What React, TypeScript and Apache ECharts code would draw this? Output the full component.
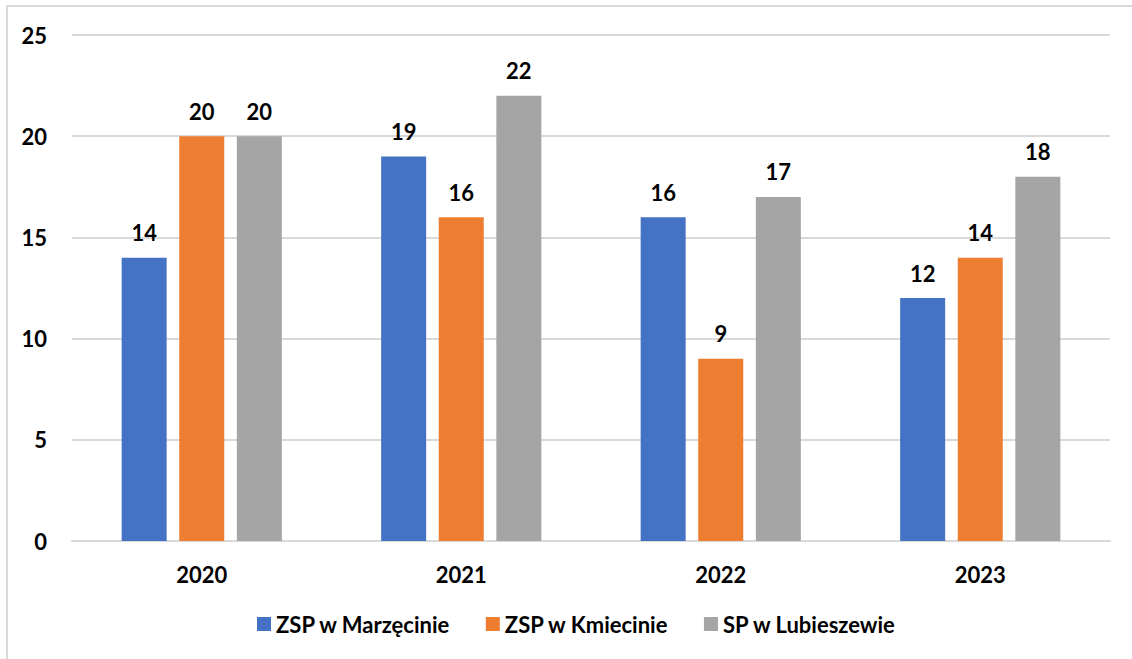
import React, { useEffect, useRef } from "react";
import * as echarts from "echarts";

const categories = ["2020", "2021", "2022", "2023"];
const seriesNames = ["ZSP w Marzęcinie", "ZSP w Kmiecinie", "SP w Lubieszewie"];
const marzecinie = [14, 19, 16, 12];
const kmiecinie = [20, 16, 9, 14];
const lubieszewie = [20, 22, 17, 18];
const colors = ["#4472C4", "#ED7D31", "#A5A5A5"];
const yTicks = { min: 0, max: 25, interval: 5 };

const FONT = "Lato";
const FS = 22;

export default function App() {
  const ref = useRef<HTMLDivElement>(null);

  useEffect(() => {
    if (!ref.current) return;
    const chart = echarts.init(ref.current, null, { renderer: "svg" });
    const values = [marzecinie, kmiecinie, lubieszewie];
    chart.setOption({
      animation: false,
      textStyle: { fontFamily: FONT },
      grid: { left: 72, right: 22, top: 35, bottom: 118, containLabel: false },
      legend: {
        bottom: 19,
        left: 252,
        itemWidth: 14,
        itemHeight: 14,
        itemGap: 35,
        icon: "rect",
        textStyle: { fontFamily: FONT, fontWeight: "bold", fontSize: FS, color: "#000" },
        data: seriesNames,
      },
      xAxis: {
        type: "category",
        data: categories,
        axisLine: { show: true, lineStyle: { color: "#d9d9d9", width: 2 } },
        axisTick: { show: false },
        axisLabel: { color: "#000", fontWeight: "bold", fontSize: FS, fontFamily: FONT, margin: 22 },
      },
      yAxis: {
        type: "value",
        min: yTicks.min,
        max: yTicks.max,
        interval: yTicks.interval,
        axisLine: { show: false },
        axisTick: { show: false },
        splitLine: { lineStyle: { color: "#d9d9d9", width: 2 } },
        axisLabel: { color: "#000", fontWeight: "bold", fontSize: FS, fontFamily: FONT, margin: 25 },
      },
      series: seriesNames.map((name, i) => ({
        name,
        type: "bar",
        data: values[i],
        barWidth: 45,
        barGap: "28%",
        itemStyle: { color: colors[i] },
        label: {
          show: true,
          position: "top",
          distance: 14,
          color: "#000",
          fontWeight: "bold",
          fontSize: FS,
          fontFamily: FONT,
        },
      })),
    });
    return () => chart.dispose();
  }, []);

  return (
    <div style={{ position: "fixed", left: 0, top: 0, width: 1132, height: 659, background: "#fff", overflow: "hidden" }}>
      <div
        style={{
          position: "absolute",
          left: 6,
          top: 5,
          width: 1140,
          height: 670,
          border: "2px solid #d9d9d9",
          boxSizing: "border-box",
        }}
      />
      <div ref={ref} style={{ position: "absolute", left: 0, top: 0, width: 1132, height: 659 }} />
    </div>
  );
}
